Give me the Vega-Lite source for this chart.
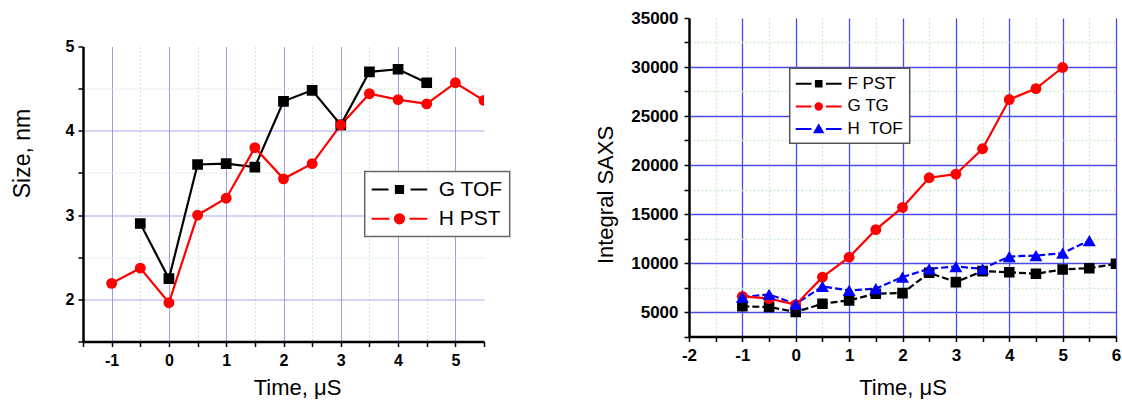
{
  "$schema": "https://vega.github.io/schema/vega-lite/v6.json",
  "background": "white",
  "padding": {"left": 11, "top": 9, "right": 0, "bottom": 0},
  "config": {
    "font": "Liberation Sans",
    "view": {"stroke": null},
    "axis": {
      "labelFont": "Liberation Sans", "labelFontWeight": "bold", "labelColor": "#000000", "labelFontSize": 16.5,
      "titleFont": "Liberation Sans", "titleFontWeight": "normal", "titleColor": "#000000",
      "domainColor": "#000000", "domainWidth": 2.5, "tickColor": "#000000", "tickWidth": 1.5, "tickSize": 5,
      "labelOverlap": false, "labelFlush": false
    },
    "legend": {"strokeWidth": 1.5}
  },
  "datasets": {
    "size": [
      {"series": "G TOF", "t": -0.5, "v": 2.90},
      {"series": "G TOF", "t": 0, "v": 2.245},
      {"series": "G TOF", "t": 0.5, "v": 3.60},
      {"series": "G TOF", "t": 1, "v": 3.61},
      {"series": "G TOF", "t": 1.5, "v": 3.57},
      {"series": "G TOF", "t": 2, "v": 4.35},
      {"series": "G TOF", "t": 2.5, "v": 4.48},
      {"series": "G TOF", "t": 3, "v": 4.07},
      {"series": "G TOF", "t": 3.5, "v": 4.70},
      {"series": "G TOF", "t": 4, "v": 4.73},
      {"series": "G TOF", "t": 4.5, "v": 4.57},
      {"series": "H PST", "t": -1, "v": 2.19},
      {"series": "H PST", "t": -0.5, "v": 2.37},
      {"series": "H PST", "t": 0, "v": 1.96},
      {"series": "H PST", "t": 0.5, "v": 3.00},
      {"series": "H PST", "t": 1, "v": 3.20},
      {"series": "H PST", "t": 1.5, "v": 3.80},
      {"series": "H PST", "t": 2, "v": 3.43},
      {"series": "H PST", "t": 2.5, "v": 3.61},
      {"series": "H PST", "t": 3, "v": 4.07},
      {"series": "H PST", "t": 3.5, "v": 4.44},
      {"series": "H PST", "t": 4, "v": 4.37},
      {"series": "H PST", "t": 4.5, "v": 4.32},
      {"series": "H PST", "t": 5, "v": 4.57},
      {"series": "H PST", "t": 5.5, "v": 4.36}
    ],
    "saxs": [
      {"series": "F PST", "t": -1, "v": 5580},
      {"series": "F PST", "t": -0.5, "v": 5510},
      {"series": "F PST", "t": 0, "v": 5000},
      {"series": "F PST", "t": 0.5, "v": 5850},
      {"series": "F PST", "t": 1, "v": 6190},
      {"series": "F PST", "t": 1.5, "v": 6870},
      {"series": "F PST", "t": 2, "v": 6930},
      {"series": "F PST", "t": 2.5, "v": 9000},
      {"series": "F PST", "t": 3, "v": 8050},
      {"series": "F PST", "t": 3.5, "v": 9170},
      {"series": "F PST", "t": 4, "v": 9060},
      {"series": "F PST", "t": 4.5, "v": 8900},
      {"series": "F PST", "t": 5, "v": 9340},
      {"series": "F PST", "t": 5.5, "v": 9470},
      {"series": "F PST", "t": 6, "v": 9920},
      {"series": "G TG", "t": -1, "v": 6600},
      {"series": "G TG", "t": -0.5, "v": 6360},
      {"series": "G TG", "t": 0, "v": 5750},
      {"series": "G TG", "t": 0.5, "v": 8560},
      {"series": "G TG", "t": 1, "v": 10590},
      {"series": "G TG", "t": 1.5, "v": 13400},
      {"series": "G TG", "t": 2, "v": 15670},
      {"series": "G TG", "t": 2.5, "v": 18700},
      {"series": "G TG", "t": 3, "v": 19060},
      {"series": "G TG", "t": 3.5, "v": 21660},
      {"series": "G TG", "t": 4, "v": 26680},
      {"series": "G TG", "t": 4.5, "v": 27800},
      {"series": "G TG", "t": 5, "v": 29950},
      {"series": "H TOF", "t": -1, "v": 6520},
      {"series": "H TOF", "t": -0.5, "v": 6800},
      {"series": "H TOF", "t": 0, "v": 5810},
      {"series": "H TOF", "t": 0.5, "v": 7610},
      {"series": "H TOF", "t": 1, "v": 7200},
      {"series": "H TOF", "t": 1.5, "v": 7380},
      {"series": "H TOF", "t": 2, "v": 8560},
      {"series": "H TOF", "t": 2.5, "v": 9410},
      {"series": "H TOF", "t": 3, "v": 9640},
      {"series": "H TOF", "t": 3.5, "v": 9410},
      {"series": "H TOF", "t": 4, "v": 10660},
      {"series": "H TOF", "t": 4.5, "v": 10760},
      {"series": "H TOF", "t": 5, "v": 11000},
      {"series": "H TOF", "t": 5.5, "v": 12290}
    ]
  },
  "spacing": 83,
  "hconcat": [
    {
      "spacing": 19.5,
      "vconcat": [
        {
          "width": 10,
          "height": 1,
          "data": {"values": []},
          "mark": "point"
        },
        {
          "width": 401,
          "height": 295,
          "data": {"name": "size"},
          "encoding": {
            "x": {
              "field": "t", "type": "quantitative",
              "scale": {"domain": [-1.5, 5.5], "nice": false, "zero": false},
              "axis": {
                "title": "Time, μS", "titleFontSize": 22, "titlePadding": 9, "titleX": 214,
                "labelFontSize": 16, "labelPadding": 6,
                "values": [-1.5, -1, -0.5, 0, 0.5, 1, 1.5, 2, 2.5, 3, 3.5, 4, 4.5, 5, 5.5],
                "labelExpr": "datum.value % 1 === 0 ? '' + datum.value : ''",
                "grid": true, "gridWidth": 1,
                "gridColor": {"condition": {"test": "datum.value % 1 === 0", "value": "#9d9de0"}, "value": "#cde8cd"},
                "gridDash": {"condition": {"test": "datum.value % 1 === 0", "value": [1, 0]}, "value": [2, 2]},
                "gridOpacity": {"condition": {"test": "datum.value === -1.5 || datum.value === 5.5", "value": 0}, "value": 1}
              }
            },
            "y": {
              "field": "v", "type": "quantitative",
              "scale": {"domain": [1.5, 5], "nice": false, "zero": false},
              "axis": {
                "title": "Size, nm", "titleFontSize": 23, "titlePadding": 31, "titleY": 106.5,
                "labelFontSize": 16, "labelPadding": 4,
                "values": [1.5, 2, 2.5, 3, 3.5, 4, 4.5, 5],
                "labelExpr": "datum.value % 1 === 0 ? '' + datum.value : ''",
                "grid": true, "gridWidth": 1,
                "gridColor": {"condition": {"test": "datum.value % 1 === 0", "value": "#9d9de0"}, "value": "#cde8cd"},
                "gridDash": {"condition": {"test": "datum.value % 1 === 0", "value": [1, 0]}, "value": [2, 2]},
                "gridOpacity": {"condition": {"test": "datum.value === 1.5 || datum.value === 5", "value": 0}, "value": 1}
              }
            },
            "color": {
              "field": "series", "type": "nominal",
              "scale": {"domain": ["G TOF", "H PST"], "range": ["#000000", "#ff0000"]},
              "legend": {
                "orient": "none", "legendX": 281.7, "legendY": 153.5, "title": null,
                "padding": 7, "rowPadding": 8.3,
                "labelFont": "Liberation Sans", "labelFontSize": 21, "labelFontWeight": "normal", "labelColor": "#000000",
                "symbolSize": 400, "symbolStrokeWidth": 2, "symbolOffset": 16.8, "labelOffset": 28.3,
                "strokeColor": "#666666", "fillColor": "#ffffff",
                "encode": {
                  "symbols": {
                    "update": {
                      "shape": {"signal": "datum.value === 'G TOF' ? 'M-2.78,0H-1.1M1.1,0H2.78M-0.36,-0.36H0.36V0.36H-0.36Z' : 'M-2.78,0H-1M1,0H2.78M0.46,0A0.46,0.46 0 1,1 -0.46,0A0.46,0.46 0 1,1 0.46,0Z'"},
                      "fill": {"signal": "datum.value === 'G TOF' ? '#000000' : '#ff0000'"},
                      "stroke": {"signal": "datum.value === 'G TOF' ? '#000000' : '#ff0000'"},
                      "strokeWidth": {"value": 2},
                      "size": {"value": 400},
                      "opacity": {"value": 1}
                    }
                  }
                }
              }
            }
          },
          "layer": [
            {"mark": {"type": "line", "strokeWidth": 2.2, "clip": true}},
            {
              "transform": [{"filter": "datum.series === 'G TOF'"}],
              "mark": {"type": "point", "shape": "square", "filled": true, "opacity": 1, "size": 115, "clip": true}
            },
            {
              "transform": [{"filter": "datum.series === 'H PST'"}],
              "mark": {"type": "point", "shape": "circle", "filled": true, "opacity": 1, "size": 118, "clip": true}
            }
          ]
        }
      ]
    },
    {
      "width": 427,
      "height": 318.5,
      "data": {"name": "saxs"},
      "encoding": {
        "x": {
          "field": "t", "type": "quantitative",
          "scale": {"domain": [-2, 6], "nice": false, "zero": false},
          "axis": {
            "title": "Time, μS", "titleFontSize": 22, "titlePadding": 14,
            "labelFontSize": 17, "labelPadding": 6,
            "values": [-2, -1.5, -1, -0.5, 0, 0.5, 1, 1.5, 2, 2.5, 3, 3.5, 4, 4.5, 5, 5.5, 6],
            "labelExpr": "datum.value % 1 === 0 ? '' + datum.value : ''",
            "grid": true, "gridWidth": 1.3,
            "gridColor": {"condition": {"test": "datum.value % 1 === 0", "value": "#4b4bea"}, "value": "#cde8cd"},
            "gridDash": {"condition": {"test": "datum.value % 1 === 0", "value": [1, 0]}, "value": [2, 2]},
            "gridOpacity": {"condition": {"test": "datum.value === -2", "value": 0}, "value": 1}
          }
        },
        "y": {
          "field": "v", "type": "quantitative",
          "scale": {"domain": [2500, 35000], "nice": false, "zero": false},
          "axis": {
            "title": "Integral SAXS", "titleFontSize": 22, "titlePadding": 13, "titleY": 176.5,
            "labelFontSize": 17, "labelPadding": 6,
            "values": [2500, 5000, 7500, 10000, 12500, 15000, 17500, 20000, 22500, 25000, 27500, 30000, 32500, 35000],
            "labelExpr": "datum.value % 5000 === 0 ? '' + datum.value : ''",
            "grid": true, "gridWidth": 1.3,
            "gridColor": {"condition": {"test": "datum.value % 5000 === 0", "value": "#4b4bea"}, "value": "#cde8cd"},
            "gridDash": {"condition": {"test": "datum.value % 5000 === 0", "value": [1, 0]}, "value": [2, 2]},
            "gridOpacity": {"condition": {"test": "datum.value === 2500 || datum.value === 35000", "value": 0}, "value": 1}
          }
        },
        "color": {
          "field": "series", "type": "nominal",
          "scale": {"domain": ["F PST", "G TG", "H TOF"], "range": ["#000000", "#ff0000", "#0000ff"]},
          "legend": {
            "orient": "none", "legendX": 100.7, "legendY": 50.2, "title": null,
            "padding": 6, "rowPadding": 4.7,
            "labelFont": "Liberation Sans", "labelFontSize": 17, "labelFontWeight": "normal", "labelColor": "#000000",
            "labelExpr": "datum.value === 'H TOF' ? 'H\u00a0 TOF' : datum.label",
            "symbolSize": 289, "symbolStrokeWidth": 2, "symbolOffset": 13.5, "labelOffset": 19.3,
            "strokeColor": "#555555", "fillColor": "#ffffff",
            "encode": {
              "symbols": {
                "update": {
                  "shape": {"signal": "datum.value === 'F PST' ? 'M-2.7,0H-0.85M0.85,0H2.7M-0.33,-0.33H0.33V0.33H-0.33Z' : datum.value === 'G TG' ? 'M-2.7,0H-0.85M0.85,0H2.7M0.38,0A0.38,0.38 0 1,1 -0.38,0A0.38,0.38 0 1,1 0.38,0Z' : 'M-2.7,0H-0.85M0.85,0H2.7M0,-0.45L0.48,0.38H-0.48Z'"},
                  "fill": {"signal": "datum.value === 'F PST' ? '#000000' : datum.value === 'G TG' ? '#ff0000' : '#0000ff'"},
                  "stroke": {"signal": "datum.value === 'F PST' ? '#000000' : datum.value === 'G TG' ? '#ff0000' : '#0000ff'"},
                  "strokeWidth": {"value": 2},
                  "strokeDash": {"value": [1, 0]},
                  "size": {"value": 289},
                  "opacity": {"value": 1}
                }
              }
            }
          }
        }
      },
      "layer": [
        {
          "transform": [{"filter": "datum.series !== 'G TG'"}],
          "mark": {"type": "line", "strokeWidth": 2.2, "strokeDash": [7, 3], "clip": true}
        },
        {
          "transform": [{"filter": "datum.series === 'G TG'"}],
          "mark": {"type": "line", "strokeWidth": 2.2, "clip": true}
        },
        {
          "transform": [{"filter": "datum.series === 'F PST'"}],
          "mark": {"type": "point", "shape": "square", "filled": true, "opacity": 1, "size": 112, "clip": true}
        },
        {
          "transform": [{"filter": "datum.series === 'G TG'"}],
          "mark": {"type": "point", "shape": "circle", "filled": true, "opacity": 1, "size": 118, "clip": true}
        },
        {
          "transform": [{"filter": "datum.series === 'H TOF'"}],
          "mark": {"type": "point", "shape": "triangle-up", "filled": true, "opacity": 1, "size": 170, "clip": true}
        }
      ]
    }
  ],
  "resolve": {
    "scale": {"color": "independent"},
    "legend": {"color": "independent"}
  }
}
